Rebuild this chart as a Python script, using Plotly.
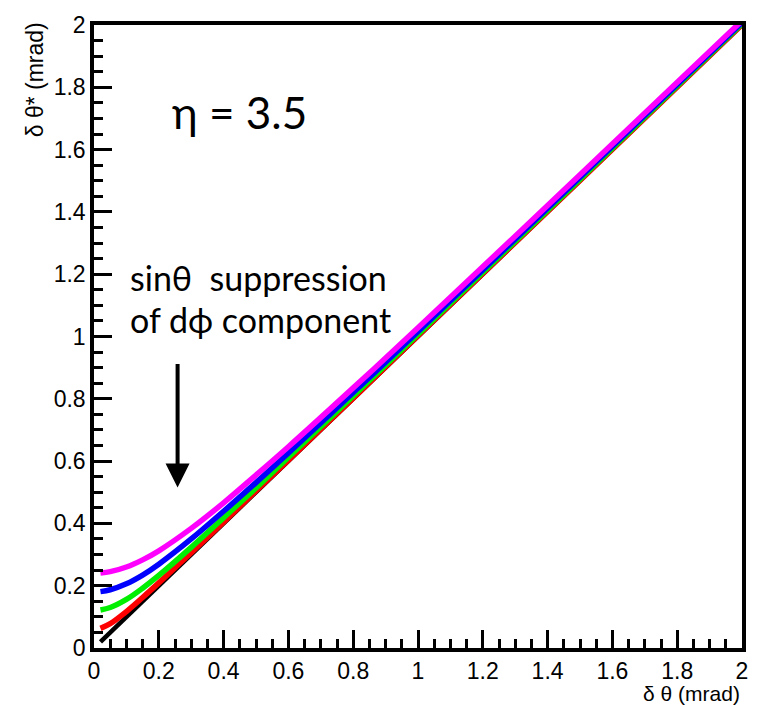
import plotly.graph_objects as go

# x positions (mrad) at which the curves were read
x_pts = [0.02, 0.05, 0.1, 0.15, 0.2, 0.3, 0.4, 0.5, 0.6, 0.8, 1.0, 1.5, 2.0]
# δθ* values
red_y     = [0.063, 0.078, 0.117, 0.162, 0.209, 0.306, 0.404, 0.504, 0.603, 0.802, 1.002, 1.501, 2.001]
green_y   = [0.122, 0.130, 0.156, 0.192, 0.233, 0.323, 0.418, 0.514, 0.612, 0.809, 1.007, 1.505, 2.004]
blue_y    = [0.181, 0.187, 0.206, 0.234, 0.269, 0.350, 0.439, 0.531, 0.626, 0.820, 1.016, 1.511, 2.008]
magenta_y = [0.241, 0.245, 0.260, 0.283, 0.312, 0.384, 0.466, 0.555, 0.646, 0.835, 1.028, 1.519, 2.014]
black_x = [0.02, 2.0]
black_y = [0.02, 2.0]

fig = go.Figure()
fig.add_trace(go.Scatter(x=black_x, y=black_y, mode="lines",
                         line=dict(color="black", width=4.5)))
for ys, col in [(red_y, "#ff0000"), (green_y, "#00ee00"),
                (blue_y, "#0000ff"), (magenta_y, "#ff00ff")]:
    fig.add_trace(go.Scatter(x=x_pts, y=ys, mode="lines",
                             line=dict(color=col, width=5.5, shape="spline")))

axis_common = dict(
    range=[0, 2], dtick=0.2, tick0=0,
    ticks="inside", ticklen=18, tickwidth=3, tickcolor="black",
    showline=True, linecolor="black", linewidth=3.5, mirror=True,
    showgrid=False, zeroline=False,
    tickfont=dict(family="Liberation Sans", size=23, color="black"),
    minor=dict(dtick=0.05, ticks="inside", ticklen=9, tickwidth=3, tickcolor="black"),
)
fig.update_xaxes(**axis_common, ticklabelstandoff=0)
fig.update_yaxes(**axis_common)

txt_font = "Lato, Open Sans, sans-serif"
annots = [
    dict(x=0.449, y=1.722, xref="x", yref="y", text="η = 3.5", showarrow=False,
         xanchor="center", yanchor="middle", font=dict(family=txt_font, size=44, color="black")),
    dict(x=0.104, y=1.189, xref="x", yref="y", text="sinθ  suppression", showarrow=False,
         xanchor="left", yanchor="middle", font=dict(family=txt_font, size=34, color="black")),
    dict(x=0.104, y=1.054, xref="x", yref="y", text="of dϕ component", showarrow=False,
         xanchor="left", yanchor="middle", font=dict(family=txt_font, size=34, color="black")),
    dict(x=0.258, y=0.515, xref="x", yref="y", text="", showarrow=True,
         ax=0, ay=-125, arrowhead=2, arrowsize=1.2, arrowwidth=4, arrowcolor="black"),
    dict(x=-0.0906, y=0.9117, xref="paper", yref="paper", text="δ θ* (mrad)", showarrow=False,
         textangle=-90, xanchor="center", yanchor="middle",
         font=dict(family="Liberation Sans", size=23, color="black")),
    dict(x=1.0, y=0.0, xref="paper", yref="paper", text="δ θ (mrad)", showarrow=False,
         xanchor="right", yanchor="bottom", yshift=-59,
         font=dict(family="Liberation Sans", size=21, color="black")),
]
fig.update_layout(
    annotations=annots,
    width=760, height=707,
    margin=dict(l=94, r=15, t=14, b=59),
    paper_bgcolor="white", plot_bgcolor="white",
    showlegend=False,
)
fig.write_html("out.html")
